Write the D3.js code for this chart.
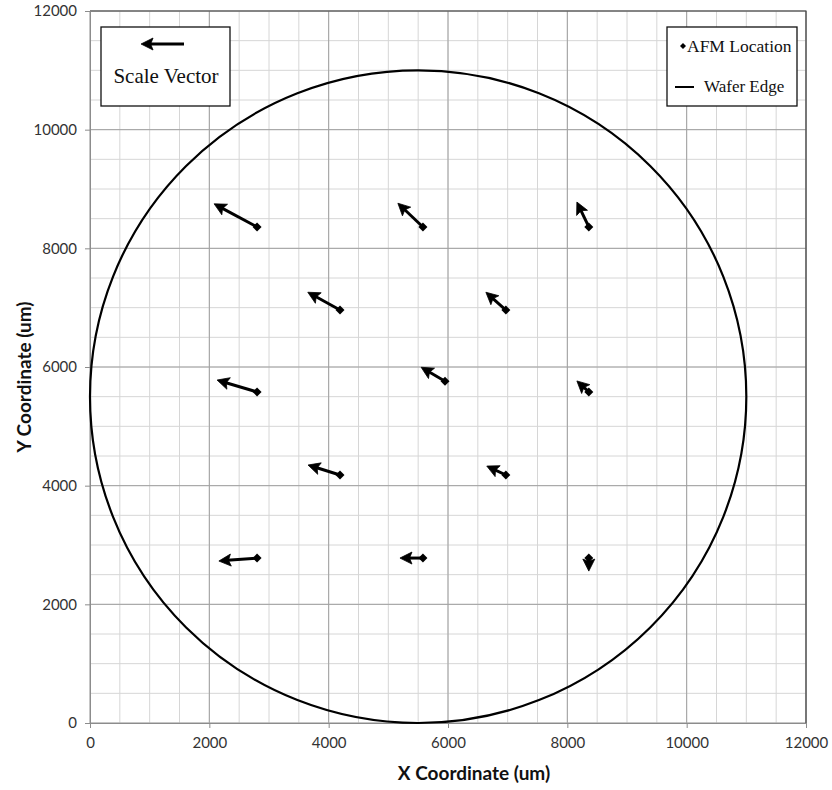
<!DOCTYPE html>
<html>
<head>
<meta charset="utf-8">
<script src="https://cdn.jsdelivr.net/npm/d3@7"></script>
<style>
  html, body { margin: 0; padding: 0; background: #fff; }
  svg { display: block; }
</style>
</head>
<body>
<svg id="chart" width="832" height="790"></svg>
<script>
// AFM measurement sites on the wafer (um)
const siteX = [2800, 5580, 8360, 4190, 6970, 2800, 5950, 8360, 4190, 6970, 2800, 5580, 8360];
const siteY = [8360, 8360, 8360, 6960, 6960, 5580, 5760, 5580, 4180, 4180, 2780, 2780, 2780];
// Displacement vector at each site, in plot units
const vecDX = [-720, -420, -200, -540, -335, -670, -400, -200, -536, -320, -640, -385, 0];
const vecDY = [ 390,  400,  420,  300,  300,  200,  235,  185,  168,  150,  -50,    0, -220];
// Reference arrow shown in the "Scale Vector" box
const scaleVectorLength = 720;

// Wafer outline
const waferCenter = [5500, 5500];
const waferRadius = 5500;

// Axes
const axisDomain = [0, 12000];
const majorTicks = [0, 2000, 4000, 6000, 8000, 10000, 12000];
const minorStep = 500;

const svg = d3.select("#chart");
const plotLeft = 90, plotRight = 806, plotTop = 11, plotBottom = 723;

const x = d3.scaleLinear().domain(axisDomain).range([plotLeft, plotRight]);
const y = d3.scaleLinear().domain(axisDomain).range([plotBottom, plotTop]);

const minorTicks = d3.range(axisDomain[0], axisDomain[1] + 1, minorStep);

// Minor grid
const grid = svg.append("g");
grid.selectAll(".vmin").data(minorTicks).enter().append("line")
  .attr("x1", d => x(d)).attr("x2", d => x(d))
  .attr("y1", plotTop).attr("y2", plotBottom)
  .attr("stroke", "#d6d6d6").attr("stroke-width", 1);
grid.selectAll(".hmin").data(minorTicks).enter().append("line")
  .attr("y1", d => y(d)).attr("y2", d => y(d))
  .attr("x1", plotLeft).attr("x2", plotRight)
  .attr("stroke", "#d6d6d6").attr("stroke-width", 1);
// Major grid
grid.selectAll(".vmaj").data(majorTicks).enter().append("line")
  .attr("x1", d => x(d)).attr("x2", d => x(d))
  .attr("y1", plotTop).attr("y2", plotBottom)
  .attr("stroke", "#a0a0a0").attr("stroke-width", 1);
grid.selectAll(".hmaj").data(majorTicks).enter().append("line")
  .attr("y1", d => y(d)).attr("y2", d => y(d))
  .attr("x1", plotLeft).attr("x2", plotRight)
  .attr("stroke", "#a0a0a0").attr("stroke-width", 1);

// Plot frame (top and right)
svg.append("path")
  .attr("d", `M${plotLeft},${plotTop}H${plotRight}V${plotBottom}`)
  .attr("fill", "none").attr("stroke", "#444").attr("stroke-width", 1.2);

// Axes
const xAxis = d3.axisBottom(x).tickValues(majorTicks).tickSize(5).tickPadding(9).tickFormat(d3.format("d"));
const yAxis = d3.axisLeft(y).tickValues(majorTicks).tickSize(5).tickPadding(8).tickFormat(d3.format("d"));

const gx = svg.append("g").attr("transform", `translate(0,${plotBottom})`).call(xAxis);
const gy = svg.append("g").attr("transform", `translate(${plotLeft},0)`).call(yAxis);
[gx, gy].forEach(g => {
  g.select(".domain").attr("stroke", "#8c8c8c");
  g.selectAll(".tick line").attr("stroke", "#8c8c8c");
  g.selectAll(".tick text")
    .attr("fill", "#333")
    .style("font-family", "Lato, 'Open Sans', sans-serif")
    .style("font-size", "15px");
});

// Axis titles
svg.append("text")
  .attr("x", 474).attr("y", 780)
  .attr("text-anchor", "middle")
  .style("font-family", "Lato, 'Open Sans', sans-serif")
  .style("font-weight", "bold").style("font-size", "19px")
  .attr("fill", "#111")
  .text("X Coordinate (um)");
svg.append("text")
  .attr("transform", `translate(31,377) rotate(-90)`)
  .attr("text-anchor", "middle")
  .style("font-family", "Lato, 'Open Sans', sans-serif")
  .style("font-weight", "bold").style("font-size", "19px")
  .attr("fill", "#111")
  .text("Y Coordinate (um)");

// Wafer edge
svg.append("ellipse")
  .attr("cx", x(waferCenter[0])).attr("cy", y(waferCenter[1]))
  .attr("rx", x(waferRadius) - x(0)).attr("ry", y(0) - y(waferRadius))
  .attr("fill", "none").attr("stroke", "#000").attr("stroke-width", 2.2);

// Arrow drawn in screen space: shaft plus filled triangular head
function arrowPaths(x1, y1, x2, y2) {
  const len = Math.hypot(x2 - x1, y2 - y1);
  const ux = (x2 - x1) / len, uy = (y2 - y1) / len;
  const headLen = Math.min(12, len * 0.85 + 4);
  const halfW = headLen * 0.5;
  const bx = x2 - ux * headLen, by = y2 - uy * headLen;
  const nx = -uy, ny = ux;
  const notch = headLen * 0.2;
  const head = `M${x2},${y2}L${bx + nx * halfW},${by + ny * halfW}` +
               `L${bx + ux * notch},${by + uy * notch}` +
               `L${bx - nx * halfW},${by - ny * halfW}Z`;
  const shaft = `M${x1},${y1}L${bx + ux * notch * 1.5},${by + uy * notch * 1.5}`;
  return { head, shaft };
}

const sites = siteX.map((sx, i) => ({ x: sx, y: siteY[i], dx: vecDX[i], dy: vecDY[i] }));
sites.forEach(d => {
  d.arrow = arrowPaths(x(d.x), y(d.y), x(d.x + d.dx), y(d.y + d.dy));
});

const vectors = svg.append("g");
vectors.selectAll(".shaft").data(sites).enter().append("path")
  .attr("d", d => d.arrow.shaft)
  .attr("stroke", "#000").attr("stroke-width", 3).attr("fill", "none");
vectors.selectAll(".head").data(sites).enter().append("path")
  .attr("d", d => d.arrow.head)
  .attr("fill", "#000").attr("stroke", "#000").attr("stroke-width", 0.8)
  .attr("stroke-linejoin", "miter");

// Site markers (regular diamonds)
const diamond = d3.symbol().type(d3.symbolSquare).size(40);
svg.append("g").selectAll("path").data(sites).enter().append("path")
  .attr("d", diamond)
  .attr("transform", d => `translate(${x(d.x)},${y(d.y)}) rotate(45)`)
  .attr("fill", "#000");

// Scale vector box
const sv = svg.append("g");
sv.append("rect").attr("x", 101).attr("y", 27).attr("width", 129).attr("height", 79)
  .attr("fill", "#fff").attr("stroke", "#111").attr("stroke-width", 1.3);
const svStart = 184;
const svLen = x(scaleVectorLength) - x(0);
const svArrow = arrowPaths(svStart, 44, svStart - svLen, 44);
sv.append("path").attr("d", svArrow.shaft)
  .attr("stroke", "#000").attr("stroke-width", 3).attr("fill", "none");
sv.append("path").attr("d", svArrow.head)
  .attr("fill", "#000").attr("stroke", "#000").attr("stroke-width", 0.8);
sv.append("text").attr("x", 166).attr("y", 83).attr("text-anchor", "middle")
  .style("font-family", "'Liberation Serif', 'DejaVu Serif', serif")
  .style("font-size", "21px").attr("fill", "#111")
  .text("Scale Vector");

// Legend
const lg = svg.append("g");
lg.append("rect").attr("x", 667).attr("y", 27).attr("width", 130).attr("height", 79)
  .attr("fill", "#fff").attr("stroke", "#111").attr("stroke-width", 1.3);
lg.append("path")
  .attr("d", d3.symbol().type(d3.symbolSquare).size(18))
  .attr("transform", "translate(683,46) rotate(45)")
  .attr("fill", "#000");
lg.append("text").attr("x", 687).attr("y", 52)
  .style("font-family", "'Liberation Serif', 'DejaVu Serif', serif")
  .style("font-size", "17.5px").attr("fill", "#111")
  .text("AFM Location");
lg.append("line").attr("x1", 675).attr("x2", 694).attr("y1", 87).attr("y2", 87)
  .attr("stroke", "#000").attr("stroke-width", 2);
lg.append("text").attr("x", 704).attr("y", 92)
  .style("font-family", "'Liberation Serif', 'DejaVu Serif', serif")
  .style("font-size", "17px").attr("fill", "#111")
  .text("Wafer Edge");
</script>
</body>
</html>
